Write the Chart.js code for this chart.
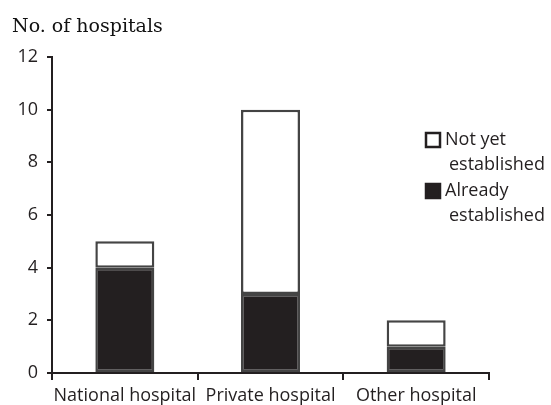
<!DOCTYPE html>
<html>
<head>
<meta charset="utf-8">
<script src="https://cdn.jsdelivr.net/npm/chart.js@4"></script>
<style>
  html, body { margin: 0; padding: 0; background: #fff; }
  #wrap { position: relative; width: 551px; height: 405px; }
</style>
</head>
<body>
<div id="wrap"><canvas id="chart" width="551" height="405"></canvas></div>
<script>
const categories = ["National hospital", "Private hospital", "Other hospital"];
const alreadyEstablished = [4, 3, 1];
const notYetEstablished = [1, 7, 1];
const legendLabels = [["Not yet", "established"], ["Already", "established"]];
const yTicks = [0, 2, 4, 6, 8, 10, 12];

const INK = "#231f20";
const TICK_FONT = { family: "'Open Sans', sans-serif", size: 18 };

// title + two-line legend are drawn by hand, Chart.js legend can't wrap
const extras = {
    id: "extras",
    afterDraw(chart) {
        const ctx = chart.ctx;
        ctx.save();
        ctx.fillStyle = "#111";
        ctx.font = "19px 'DejaVu Serif', serif";
        ctx.textBaseline = "alphabetic";
        ctx.textAlign = "left";
        ctx.fillText("No. of hospitals", 12, 32);

        const fills = ["#ffffff", INK];
        const boxX = 426, lineH = 25;
        let y = 140;
        ctx.textBaseline = "middle";
        ctx.font = "18px 'Open Sans', sans-serif";
        legendLabels.forEach((lines, i) => {
            ctx.fillStyle = fills[i];
            ctx.fillRect(boxX, y - 7, 14, 14);
            ctx.strokeStyle = INK;
            ctx.lineWidth = 2.5;
            ctx.strokeRect(boxX, y - 7, 14, 14);
            ctx.fillStyle = INK;
            ctx.fillText(lines[0], boxX + 19, y);
            ctx.fillText(lines[1], boxX + 23, y + lineH);
            y += lineH * 2 + 1;
        });
        ctx.restore();
    }
};

new Chart(document.getElementById("chart"), {
    type: "bar",
    data: {
        labels: categories,
        datasets: [
            {
                label: "Already established",
                data: alreadyEstablished,
                backgroundColor: INK,
                borderColor: "#444",
                borderWidth: 2.5,
                borderSkipped: false,
                categoryPercentage: 1,
                barPercentage: 0.405
            },
            {
                label: "Not yet established",
                data: notYetEstablished,
                backgroundColor: "#ffffff",
                borderColor: "#444",
                borderWidth: 2.5,
                borderSkipped: false,
                categoryPercentage: 1,
                barPercentage: 0.405
            }
        ]
    },
    options: {
        responsive: false,
        animation: false,
        layout: { padding: { top: 57, left: 0, right: 62, bottom: 0 } },
        plugins: { legend: { display: false }, tooltip: { enabled: false } },
        scales: {
            x: {
                stacked: true,
                grid: { drawOnChartArea: false, drawTicks: true, tickLength: 7, color: INK, lineWidth: 2 },
                border: { color: INK, width: 2 },
                ticks: { color: INK, font: TICK_FONT, padding: 5, maxRotation: 0, autoSkip: false },
                afterFit(scale) { scale.height = 32; }
            },
            y: {
                stacked: true,
                min: 0,
                max: 12,
                afterBuildTicks(scale) { scale.ticks = yTicks.map(v => ({ value: v })); },
                grid: { drawOnChartArea: false, drawTicks: true, tickLength: 5, color: INK, lineWidth: 2 },
                border: { color: INK, width: 2 },
                ticks: { color: INK, font: TICK_FONT, padding: 9 },
                afterFit(scale) { scale.width = 52; }
            }
        }
    },
    plugins: [extras]
});
</script>
</body>
</html>
